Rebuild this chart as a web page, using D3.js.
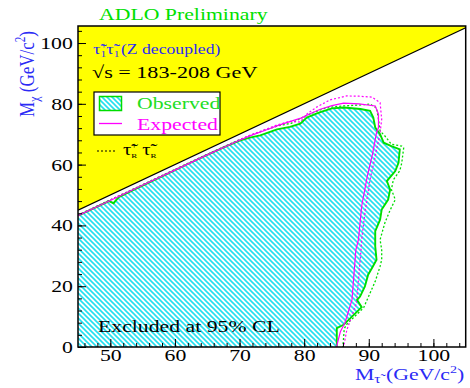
<!DOCTYPE html>
<html>
<head>
<meta charset="utf-8">
<script src="https://cdn.jsdelivr.net/npm/d3@7"></script>
<style>
  html, body { margin: 0; padding: 0; background: #fff; }
  svg { display: block; }
  text { font-family: "Liberation Serif", "Times New Roman", serif; }
</style>
</head>
<body>
<script>
// Axis ticks
const xTicks = [50, 60, 70, 80, 90, 100];
const yTicks = [0, 20, 40, 60, 80, 100];

// Observed 95% CL exclusion contour (stau1 pair, Z decoupled)
const obsMstau = [45, 48, 49.8, 50.5, 51.3, 54, 58, 62, 65, 68, 70, 71.6, 73.2, 75.8, 77.8, 79.4, 80.4, 81.7, 82.5, 84.3, 86.1, 88.7, 90.2, 90.7, 91.0, 91.75, 92.3, 93.5, 94.8, 94.6, 94.1, 92.8, 93.3, 93.0, 92.0, 91.75, 91.0, 91.0, 91.2, 90.5, 89.9, 89.4, 88.65, 88.2, 88.9, 86.1, 85.05, 85.05];
const obsMchi  = [43.2, 46.2, 48.0, 47.3, 49.3, 52.1, 56.1, 60.2, 63.2, 66.1, 67.9, 68.9, 69.6, 71.6, 72.4, 73.5, 75.5, 76.6, 77.3, 78.5, 78.8, 78.3, 77.7, 75.5, 72.2, 70.0, 67.2, 66.1, 65.0, 60.6, 57.9, 54.6, 51.8, 48.5, 45.2, 41.9, 38.1, 33.1, 28.7, 26.0, 23.8, 19.9, 16.6, 15.5, 13.1, 7.3, 6.2, 0];

// Expected contour
const expMstau = [45, 50, 55, 60, 65, 70, 72, 74, 76, 78, 79.5, 81, 82.5, 84.3, 86.1, 88.5, 91.0, 91.5, 91.5, 91.2, 90.6, 89.8, 88.9, 88.4, 88.0, 87.4, 86.3, 85.6, 85.0];
const expMchi  = [43.2, 48.2, 53.2, 58.2, 63.2, 68.0, 69.8, 71.3, 72.9, 74.3, 75.3, 76.8, 78.2, 79.4, 80.2, 80.0, 79.3, 76.6, 72.2, 70.5, 63.7, 56.5, 46.3, 35.3, 32.0, 15.5, 7.9, 5.0, 0];

// Observed contour for right-handed stau pairs
const obsRMstau = [45, 50, 55, 60, 65, 70, 72, 74, 76, 78, 80, 81.5, 83, 84.5, 86.1, 88.5, 90.2, 91.2, 91.5, 91.75, 92.5, 93.5, 95.1, 95.4, 95.1, 94.8, 93.8, 93.5, 94.1, 93.3, 92.5, 91.75, 92.0, 92.0, 91.75, 91.0, 89.2, 86.6, 86.2, 86.0];
const obsRMchi  = [43.4, 48.4, 53.4, 58.4, 63.4, 68.2, 69.9, 71.4, 72.8, 73.6, 75.8, 77.2, 78.4, 79.0, 79.3, 79.6, 79.9, 78.6, 75.0, 71.1, 69.4, 66.7, 66.1, 65.5, 60.5, 58.0, 55.0, 51.8, 48.5, 45.0, 40.9, 35.3, 32.0, 28.7, 26.5, 21.6, 12.9, 7.5, 6.0, 0];

// Expected contour for right-handed stau pairs
const expRMstau = [45, 50, 55, 60, 65, 70, 72, 74, 76, 77.8, 79.4, 80.5, 82, 84, 86.6, 88.5, 90.5, 91.75, 92.0, 91.75, 91.0, 90.2, 89.4, 88.9, 88.8, 88.1, 86.6, 86.1];
const expRMchi  = [43.4, 48.4, 53.4, 58.4, 63.4, 68.2, 70.0, 71.6, 73.2, 74.2, 74.0, 76.8, 79.0, 81.3, 82.6, 82.5, 82.2, 80.4, 74.9, 70.5, 62.8, 55.1, 44.1, 35.3, 32.0, 14.5, 5.6, 0];

const W = 470, H = 388;
const SX = 1.28;          // horizontal stretch of the lettering
const GREEN = "#00dd00", MAGENTA = "#ff00ff", BLUE = "#2b2bf5", CYAN = "#22e0f0";

const svg = d3.select("body").append("svg").attr("width", W).attr("height", H);

const x = d3.scaleLinear().domain([45, 105]).range([78, 465.7]);
const y = d3.scaleLinear().domain([0, 105.6]).range([347, 26]);
const [xMin, xMax] = x.domain();
const [yMin, yMax] = y.domain();

// Hatch pattern for the excluded region
const defs = svg.append("defs");
const pat = defs.append("pattern").attr("id", "hatch")
  .attr("patternUnits", "userSpaceOnUse").attr("width", 5).attr("height", 5);
pat.append("rect").attr("width", 5).attr("height", 5).attr("fill", "#fff");
pat.append("path").attr("d", "M0,0 L5,5 M-1,4 L1,6 M4,-1 L6,1")
  .attr("stroke", CYAN).attr("stroke-width", 1.6);

defs.append("clipPath").attr("id", "plotclip").append("rect")
  .attr("x", x(xMin)).attr("y", y(yMax))
  .attr("width", x(xMax) - x(xMin)).attr("height", y(yMin) - y(yMax));

const plot = svg.append("g").attr("clip-path", "url(#plotclip)");

// Kinematically forbidden region M_chi > M_stau
const forbidden = [[xMin, xMin], [xMax, xMax], [xMax, yMax], [xMin, yMax]];
plot.append("path")
  .attr("d", d3.line().x(d => x(d[0])).y(d => y(d[1]))(forbidden) + "Z")
  .attr("fill", "#ffff00");
plot.append("line")
  .attr("x1", x(xMin)).attr("y1", y(xMin)).attr("x2", x(xMax)).attr("y2", y(xMax))
  .attr("stroke", "#000").attr("stroke-width", 1.2);

// Excluded region, bounded by the observed contour
const zip = (xs, ys) => xs.map((v, i) => [v, ys[i]]);
const obsPts = zip(obsMstau, obsMchi);
const region = [[xMin, 0]].concat(obsPts);
const line = d3.line().x(d => x(d[0])).y(d => y(d[1]));
plot.append("path").attr("d", line(region) + "Z").attr("fill", "url(#hatch)");

// Contours
plot.append("path").attr("d", line(zip(obsRMstau, obsRMchi)))
  .attr("fill", "none").attr("stroke", GREEN).attr("stroke-width", 1.3).attr("stroke-dasharray", "2,2");
plot.append("path").attr("d", line(zip(expRMstau, expRMchi)))
  .attr("fill", "none").attr("stroke", MAGENTA).attr("stroke-width", 1.2).attr("stroke-dasharray", "2,2");
plot.append("path").attr("d", line(obsPts))
  .attr("fill", "none").attr("stroke", GREEN).attr("stroke-width", 1.9);
plot.append("path").attr("d", line(zip(expMstau, expMchi)))
  .attr("fill", "none").attr("stroke", MAGENTA).attr("stroke-width", 1.2);

// Axes with inward ticks
const xMinor = d3.range(46, 105, 2);
const yMinor = d3.range(0, 106, 4);

const gxMinor = svg.append("g").attr("transform", `translate(0,${y(yMin)})`)
  .call(d3.axisBottom(x).tickValues(xMinor).tickSize(-4).tickSizeOuter(0).tickFormat(""));
const gx = svg.append("g").attr("transform", `translate(0,${y(yMin)})`)
  .call(d3.axisBottom(x).tickValues(xTicks).tickSize(-8).tickSizeOuter(0).tickPadding(2));
const gyMinor = svg.append("g").attr("transform", `translate(${x(xMin)},0)`)
  .call(d3.axisLeft(y).tickValues(yMinor).tickSize(-4).tickSizeOuter(0).tickFormat(""));
const gy = svg.append("g").attr("transform", `translate(${x(xMin)},0)`)
  .call(d3.axisLeft(y).tickValues(yTicks).tickSize(-8).tickSizeOuter(0).tickPadding(4));

[gx, gxMinor, gy, gyMinor].forEach(g => {
  g.select(".domain").remove();
  g.selectAll(".tick line").attr("stroke", "#000").attr("stroke-width", 1);
});
[gx, gy].forEach(g => {
  g.selectAll(".tick text")
    .attr("font-family", "'Liberation Serif', 'Times New Roman', serif")
    .attr("font-size", 17).attr("fill", "#000")
    .attr("transform", `scale(${SX},1)`);
});

// Frame
svg.append("rect")
  .attr("x", x(xMin)).attr("y", y(yMax))
  .attr("width", x(xMax) - x(xMin)).attr("height", y(yMin) - y(yMax))
  .attr("fill", "none").attr("stroke", "#000").attr("stroke-width", 1.5);

// Text helper: parts are [string, size, dx, dy]
function label(px, py, parts, opts = {}) {
  const t = svg.append("text")
    .attr("transform", `translate(${px},${py}) scale(${SX},1)` + (opts.rotate ? ` rotate(${opts.rotate})` : ""))
    .attr("fill", opts.fill || "#000")
    .attr("text-anchor", opts.anchor || "start");
  parts.forEach(([s, size, dx, dy]) => {
    const ts = t.append("tspan").text(s).attr("font-size", size);
    if (dx) ts.attr("dx", dx);
    if (dy) ts.attr("dy", dy);
  });
  return t;
}

const TAU = "\u03C4\u0303";

label(99, 20, [["ADLO Preliminary", 17]], { fill: "#00e000" });

label(93, 54, [
  [TAU, 14.5], ["+", 9, 0, -6], ["1", 9, -5, 9],
  [TAU, 14.5, 0, -3], ["\u2212", 9, 0, -6], ["1", 9, -5, 9],
  ["(Z decoupled)", 13.8, 1, -3]
], { fill: BLUE });

label(92, 78, [["\u221As = 183-208 GeV", 17.3]]);

// Legend
svg.append("rect").attr("x", 94).attr("y", 92).attr("width", 126).attr("height", 43)
  .attr("fill", "#fff").attr("stroke", "#000").attr("stroke-width", 1.2);
svg.append("rect").attr("x", 99.5).attr("y", 96.5).attr("width", 22).attr("height", 14)
  .attr("fill", "url(#hatch)").attr("stroke", GREEN).attr("stroke-width", 1.5);
label(137, 109, [["Observed", 17]], { fill: "#22dd22" });
svg.append("line").attr("x1", 99).attr("x2", 122).attr("y1", 123.5).attr("y2", 123.5)
  .attr("stroke", MAGENTA).attr("stroke-width", 1.3);
label(137, 130, [["Expected", 17]], { fill: MAGENTA });

svg.append("line").attr("x1", 97).attr("x2", 116).attr("y1", 151).attr("y2", 151)
  .attr("stroke", "#000").attr("stroke-width", 1.2).attr("stroke-dasharray", "2,2");
label(123, 155, [
  [TAU, 16], ["+", 8, 0, -7], ["R", 7, -4.5, 10],
  [" ", 16, 0, -3], [TAU, 16], ["\u2212", 8, 0, -7], ["R", 7, -4.5, 10]
]);

label(98, 332, [["Excluded at 95% CL", 17]]);

// Axis titles
label(355, 380, [["M", 17], [TAU, 12, 0, 3], [" (GeV/c", 17, 0, -3], ["2", 11, 0, -7], [")", 17, 0, 7]], { fill: BLUE });
svg.append("text")
  .attr("transform", `translate(33.5,74) scale(${SX},1) rotate(-90)`)
  .attr("text-anchor", "middle").attr("fill", BLUE)
  .call(t => {
    [["M", 17], ["\u03C7", 12, 0, 4], [" (GeV/c", 17, 0, -4], ["2", 11, 0, -7], [")", 17, 0, 7]]
      .forEach(([s, size, dx, dy]) => {
        const ts = t.append("tspan").text(s).attr("font-size", size);
        if (dx) ts.attr("dx", dx);
        if (dy) ts.attr("dy", dy);
      });
  });
</script>
</body>
</html>
